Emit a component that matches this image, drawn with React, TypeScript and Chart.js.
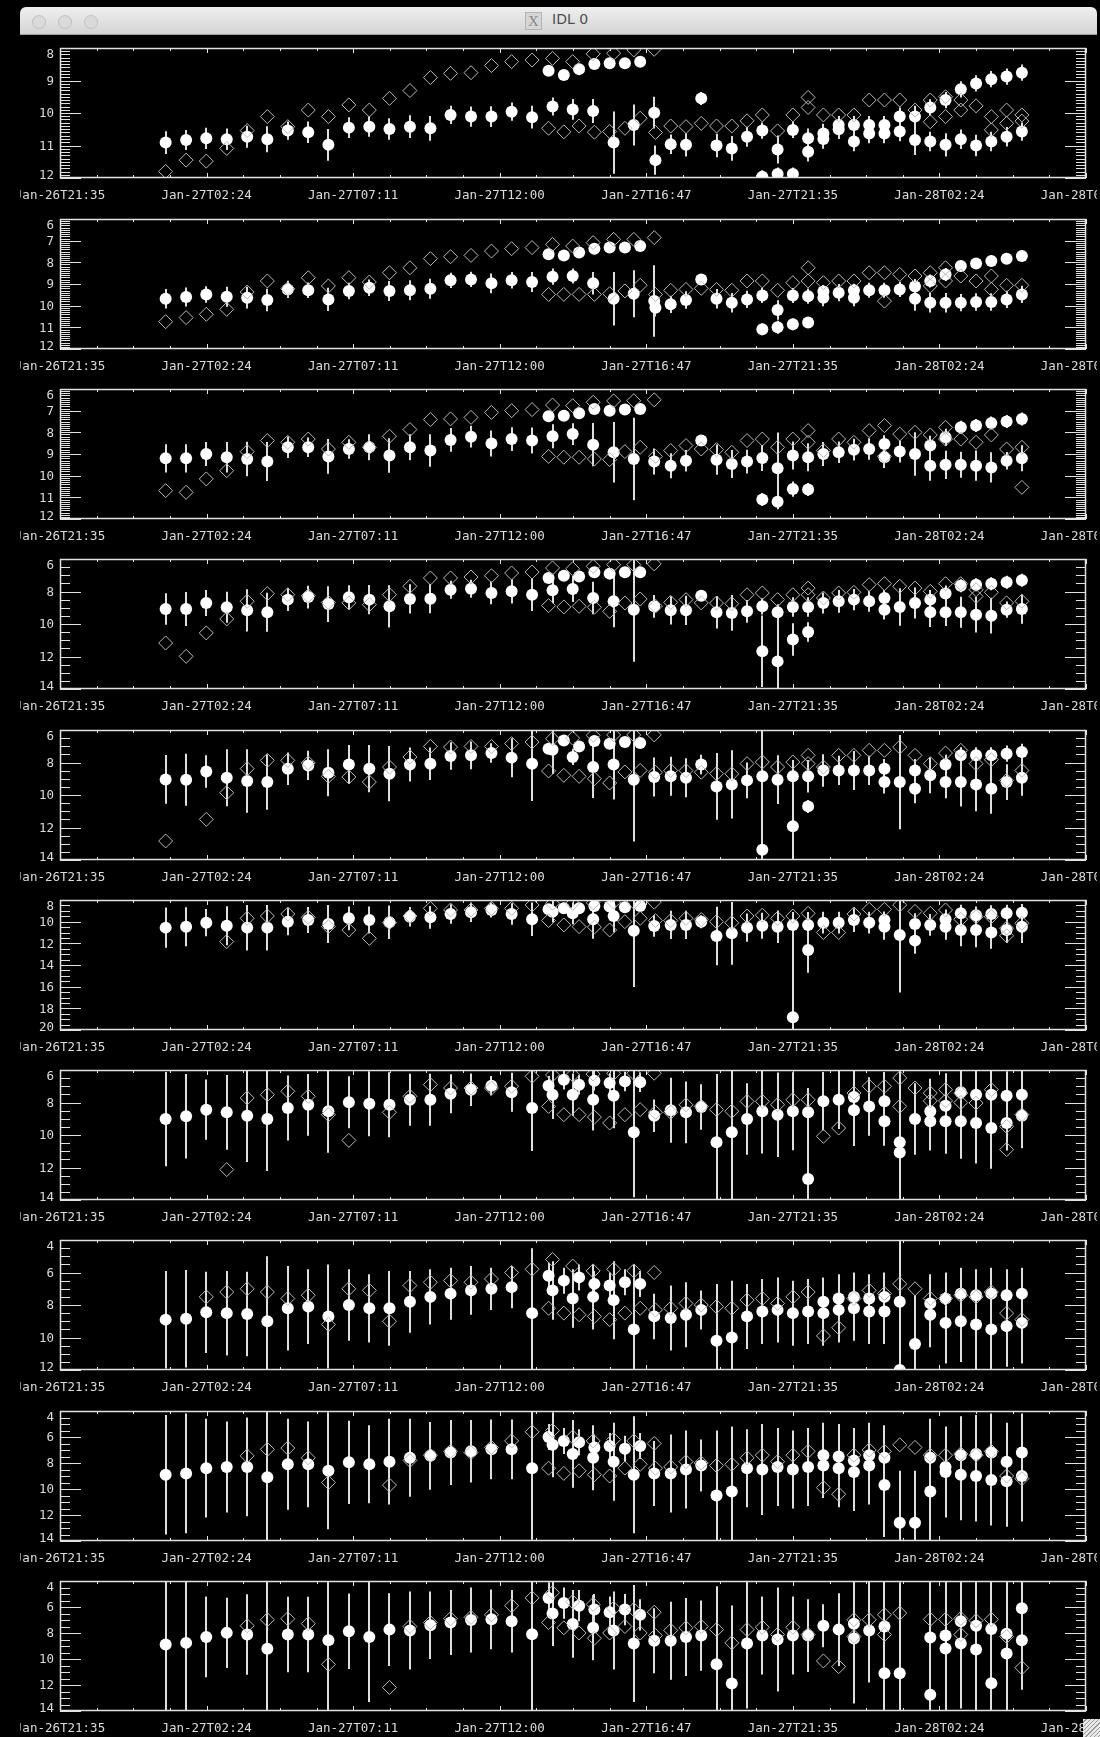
import React, { useEffect, useRef } from 'react';
import { Chart, registerables } from 'chart.js';

Chart.register(...registerables);

type Val = number | null;
const _ = null;

// ---------- x axis (hours after Jan-26T21:35) ----------
const X_TICK_LABELS = ['Jan-26T21:35', 'Jan-27T02:24', 'Jan-27T07:11', 'Jan-27T12:00', 'Jan-27T16:47', 'Jan-27T21:35', 'Jan-28T02:24', 'Jan-28T07:11'];
const X_MIN = 0;
const X_MAX = 33.6;
const X_MAJOR = 4.8;
const X_MINOR_PER_MAJOR = 4;

// observation times (hours)
const T_A = [3.46, 4.13, 4.79, 5.46, 6.13, 6.79, 7.46, 8.13, 8.79, 9.46, 10.13, 10.79, 11.46, 12.13, 12.79, 13.46, 14.13, 14.79, 15.46, 16.13, 16.79, 17.46, 18.13, 18.79, 19.46];
const T_B = [16.0, 16.5, 17.0, 17.5, 18.0, 18.5, 19.0, 19.5, 20.0, 20.5, 21.0, 21.5, 22.0, 22.5, 23.0, 23.5, 24.0, 24.5, 25.0, 25.5, 26.0, 26.5, 27.0, 27.5, 28.0, 28.5, 29.0, 29.5, 30.0, 30.5, 31.0, 31.5];

// ---------- y axes per panel ----------
const Y_MIN = [8, 6, 6, 6, 6, 8, 6, 4, 4, 4];
const Y_MAX = [12, 12, 12, 14, 14, 20, 14, 12, 14, 14];
const Y_STEP = [1, 1, 1, 2, 2, 2, 2, 2, 2, 2];
const Y_MINOR = [10, 10, 10, 4, 4, 4, 4, 4, 4, 4];

// ---------- panel 1 ----------
const P1_CA: Val[] = [10.91, 10.83, 10.78, 10.81, 10.73, 10.81, 10.54, 10.59, 10.98, 10.45, 10.42, 10.49, 10.42, 10.47, 10.06, 10.11, 10.11, 9.96, 10.13, 9.80, 9.89, 9.94, 10.91, 10.37, 9.99];
const P1_EA: Val[] = [0.35, 0.31, 0.33, 0.33, 0.34, 0.40, 0.28, 0.33, 0.49, 0.32, 0.31, 0.33, 0.35, 0.38, 0.28, 0.31, 0.32, 0.28, 0.35, 0.28, 0.32, 0.37, 0.96, 0.63, 0.49];
const P1_DA: Val[] = [11.80, 11.45, 11.48, 11.09, 10.54, 10.11, 10.42, 9.91, 10.11, 9.75, 9.91, 9.55, 9.31, 8.91, 8.78, 8.76, 8.54, 8.42, 8.37, 8.32, 8.42, 8.18, 8.16, 8.06, 8.04];
const P1_C1: Val[] = [8.70, 8.83, 8.65, 8.49, 8.47, 8.47, 8.42, _, _, _, _, _, _, _, _, _, _, 10.78, 10.63, 10.37, 10.37, 10.37, 10.37, 10.11, 10.11, 9.83, 9.60, 9.27, 9.09, 8.96, 8.88, 8.76];
const P1_E1: Val[] = [0.12, 0.12, 0.12, 0.12, 0.12, 0.12, 0.12, _, _, _, _, _, _, _, _, _, _, 0.30, 0.30, 0.28, 0.28, 0.28, 0.28, 0.28, 0.33, 0.25, 0.25, 0.25, 0.25, 0.25, 0.25, 0.25];
const P1_C2: Val[] = [_, _, _, _, _, _, _, 11.45, 10.96, 10.98, 9.55, 11.00, 11.09, 10.73, 10.54, 11.12, 10.52, 11.19, 10.80, 10.50, 10.88, 10.63, 10.63, 10.57, 10.83, 10.88, 10.98, 10.81, 11.00, 10.88, 10.73, 10.57];
const P1_E2: Val[] = [_, _, _, _, _, _, _, 0.45, 0.30, 0.36, 0.20, 0.36, 0.38, 0.31, 0.25, 0.43, 0.25, 0.30, 0.30, 0.30, 0.30, 0.30, 0.30, 0.30, 0.46, 0.30, 0.36, 0.30, 0.33, 0.30, 0.30, 0.28];
const P1_C3: Val[] = [_, _, _, _, _, _, _, _, _, _, _, _, _, _, 11.96, 11.88, 11.88, _, _, _, _, _, _, _, _, _, _, _, _, _, _, _];
const P1_E3: Val[] = [_, _, _, _, _, _, _, _, _, _, _, _, _, _, 0.2, 0.2, 0.2, _, _, _, _, _, _, _, _, _, _, _, _, _, _, _];
const P1_D1: Val[] = [10.47, 10.58, 10.40, 10.59, 10.57, 10.47, 10.16, 10.60, 10.40, 10.42, 10.32, 10.40, 10.40, 10.24, 10.06, 10.55, 10.06, 9.52, 10.06, 10.06, 10.06, 9.60, 9.60, 9.60, 9.91, 9.60, 9.50, 9.60, 9.78, 10.11, 9.91, 10.06];
const P1_D2: Val[] = [_, _, _, _, _, _, _, _, _, _, _, _, _, _, _, _, _, 9.83, _, _, _, _, _, _, _, 10.27, 10.11, 9.91, _, 10.52, 10.32, 10.25];

// ---------- panel 2 ----------
const P2_CA: Val[] = [9.68, 9.60, 9.48, 9.59, 9.63, 9.74, 9.25, 9.29, 9.71, 9.32, 9.17, 9.32, 9.29, 9.22, 8.83, 8.79, 8.97, 8.83, 8.91, 8.66, 8.63, 8.97, 9.68, 9.45, 9.79];
const P2_EA: Val[] = [0.45, 0.44, 0.38, 0.46, 0.50, 0.52, 0.40, 0.36, 0.54, 0.38, 0.38, 0.46, 0.46, 0.46, 0.35, 0.35, 0.46, 0.38, 0.46, 0.38, 0.35, 0.52, 1.23, 1.08, 1.65];
const P2_DA: Val[] = [10.74, 10.55, 10.40, 10.17, 9.37, 8.86, 9.22, 8.71, 9.09, 8.71, 8.91, 8.48, 8.25, 7.83, 7.74, 7.68, 7.48, 7.37, 7.32, 7.17, 7.25, 7.09, 6.94, 6.94, 6.86];
const P2_C1: Val[] = [7.63, 7.68, 7.55, 7.37, 7.32, 7.32, 7.25, _, _, _, _, _, _, _, _, _, _, _, 9.35, _, 9.29, _, _, _, 9.12, 8.86, 8.56, 8.17, 8.05, 7.94, 7.83, 7.71];
const P2_E1: Val[] = [0.12, 0.12, 0.12, 0.12, 0.12, 0.12, 0.12, _, _, _, _, _, _, _, _, _, _, _, 0.3, _, 0.3, _, _, _, 0.35, 0.3, 0.3, 0.25, 0.25, 0.25, 0.25, 0.25];
const P2_C2: Val[] = [_, _, _, _, _, _, _, 10.10, 9.94, 9.74, 8.79, 9.68, 9.86, 9.71, 9.53, 10.20, 9.53, 9.56, 9.63, 9.40, 9.63, 9.29, 9.29, 9.25, 9.68, 9.86, 9.86, 9.86, 9.83, 9.83, 9.71, 9.48];
const P2_E2: Val[] = [_, _, _, _, _, _, _, 0.40, 0.40, 0.40, 0.20, 0.45, 0.45, 0.40, 0.35, 0.45, 0.35, 0.35, 0.40, 0.40, 0.40, 0.35, 0.35, 0.35, 0.55, 0.45, 0.45, 0.40, 0.40, 0.40, 0.40, 0.40];
const P2_C3: Val[] = [_, _, _, _, _, _, _, _, _, _, _, _, _, _, 11.09, 11.00, 10.86, 10.78, _, _, _, _, _, _, _, _, _, _, _, _, _, _];
const P2_E3: Val[] = [_, _, _, _, _, _, _, _, _, _, _, _, _, _, 0.27, 0.30, 0.27, 0.25, _, _, _, _, _, _, _, _, _, _, _, _, _, _];
const P2_D1: Val[] = [9.48, 9.48, 9.48, 9.48, 9.45, 9.32, 9.06, 9.48, 9.29, 9.25, 9.20, 9.25, 9.29, 8.86, 8.86, 9.29, 8.94, 8.25, 8.94, 8.86, 8.86, 8.48, 8.48, 8.56, 8.63, 8.48, 8.25, 8.63, 8.86, 8.63, 9.06, 9.06];
const P2_D2: Val[] = [_, _, _, _, _, _, _, _, _, _, _, _, _, _, _, _, _, 8.86, _, _, _, _, 9.79, _, _, 9.09, 8.86, _, _, 9.25, _, _];

// ---------- panel 3 ----------
const P3_CA: Val[] = [9.20, 9.20, 9.00, 9.15, 9.23, 9.35, 8.69, 8.69, 9.11, 8.77, 8.69, 9.07, 8.69, 8.84, 8.35, 8.20, 8.51, 8.31, 8.38, 8.18, 8.08, 8.57, 8.92, 9.23, 9.35];
const P3_EA: Val[] = [0.65, 0.65, 0.55, 0.70, 0.80, 0.90, 0.50, 0.45, 0.80, 0.45, 0.60, 0.80, 0.60, 0.75, 0.55, 0.50, 0.60, 0.55, 0.60, 0.55, 0.50, 1.00, 1.40, 1.90, 0.60];
const P3_DA: Val[] = [10.69, 10.77, 10.15, 9.77, 8.89, 8.38, 8.46, 8.31, 8.77, 8.46, 8.69, 8.18, 7.87, 7.41, 7.38, 7.31, 7.08, 7.00, 6.95, 6.74, 6.77, 6.61, 6.55, 6.54, 6.50];
const P3_C1: Val[] = [7.26, 7.23, 7.12, 6.92, 7.00, 6.95, 6.92, _, _, _, _, _, _, _, _, _, _, _, _, _, _, _, 8.54, _, _, 8.61, 8.23, 7.77, 7.69, 7.57, 7.50, 7.38];
const P3_E1: Val[] = [0.15, 0.15, 0.15, 0.15, 0.15, 0.15, 0.15, _, _, _, _, _, _, _, _, _, _, _, _, _, _, _, 0.4, _, _, 0.45, 0.4, 0.3, 0.3, 0.3, 0.3, 0.3];
const P3_C2: Val[] = [_, _, _, _, _, _, _, _, 9.54, 9.31, 8.38, 9.26, 9.46, 9.35, 9.18, 9.66, 9.07, 9.15, 9.00, 8.92, 8.80, 8.77, 9.15, 8.89, 9.00, 9.54, 9.50, 9.50, 9.54, 9.62, 9.31, 9.20];
const P3_E2: Val[] = [_, _, _, _, _, _, _, _, 0.58, 0.50, 0.20, 0.70, 0.65, 0.55, 0.60, 1.65, 0.65, 0.65, 0.55, 0.50, 0.50, 0.50, 0.50, 0.50, 1.00, 0.70, 0.65, 0.60, 0.70, 0.70, 0.40, 0.60];
const P3_C3: Val[] = [_, _, _, _, _, _, _, _, _, _, _, _, _, _, 11.10, 11.20, 10.62, 10.64, _, _, _, _, _, _, _, _, _, _, _, _, _, _];
const P3_E3: Val[] = [_, _, _, _, _, _, _, _, _, _, _, _, _, _, 0.30, 0.35, 0.35, 0.30, _, _, _, _, _, _, _, _, _, _, _, _, _, _];
const P3_D1: Val[] = [9.11, 9.15, 9.15, 9.23, 9.26, 8.89, 8.69, 9.11, 8.84, 8.61, 8.77, 8.80, 8.92, 8.38, 8.31, 8.69, 8.31, 7.92, 8.84, 8.31, 8.46, 7.92, 7.69, 8.08, 8.00, 8.12, 7.77, 8.31, 8.46, 8.12, 8.77, 8.69];
const P3_D2: Val[] = [_, _, _, _, _, _, _, _, _, _, _, _, _, _, _, _, _, 8.46, _, _, _, _, 9.11, _, _, _, 8.31, _, _, _, _, 10.54];

// ---------- panel 4 ----------
const P4_CA: Val[] = [9.08, 9.08, 8.71, 8.97, 9.16, 9.28, 8.50, 8.34, 8.77, 8.36, 8.50, 8.91, 8.46, 8.44, 7.89, 7.83, 8.09, 7.99, 8.20, 7.93, 7.85, 8.40, 8.60, 9.12, 8.91];
const P4_EA: Val[] = [0.97, 1.05, 0.80, 0.95, 1.30, 1.20, 0.70, 0.70, 1.10, 0.75, 0.90, 1.30, 0.90, 0.90, 0.55, 0.55, 0.70, 0.75, 1.00, 0.80, 0.80, 1.00, 1.60, 3.20, 0.70];
const P4_DA: Val[] = [11.17, 11.99, 10.55, 9.69, 8.60, 8.13, 8.20, 8.26, 8.67, 8.70, 8.81, 8.20, 7.68, 7.17, 7.17, 7.11, 7.03, 6.86, 6.80, 6.55, 6.60, 6.45, 6.35, 6.35, 6.30];
const P4_C1: Val[] = [7.17, 7.03, 7.07, 6.82, 6.90, 6.82, 6.82, _, _, _, _, _, _, _, _, _, _, _, _, _, _, _, 8.40, _, _, 8.50, 8.13, 7.64, 7.58, 7.52, 7.43, 7.31];
const P4_E1: Val[] = [0.2, 0.2, 0.2, 0.2, 0.2, 0.2, 0.2, _, _, _, _, _, _, _, _, _, _, _, _, _, _, _, 0.5, _, _, 0.6, 0.5, 0.4, 0.4, 0.4, 0.4, 0.4];
const P4_C2: Val[] = [_, _, _, _, _, _, _, _, 9.16, 9.16, 8.26, 9.28, 9.32, 9.22, 8.91, 9.28, 8.95, 8.95, 8.71, 8.60, 8.50, 8.60, 9.12, 8.95, 8.71, 9.28, 9.28, 9.28, 9.43, 9.49, 9.12, 9.08];
const P4_E2: Val[] = [_, _, _, _, _, _, _, _, 0.87, 0.90, 0.30, 1.00, 1.10, 0.70, 0.50, 0.50, 0.60, 0.60, 0.65, 0.70, 0.65, 0.65, 0.60, 1.15, 0.95, 0.90, 0.85, 0.95, 1.10, 1.10, 0.50, 0.90];
const P4_C3: Val[] = [_, _, _, _, _, _, _, _, _, _, _, _, _, _, 11.68, 12.30, 10.96, 10.49, _, _, _, _, _, _, _, _, _, _, _, _, _, _];
const P4_E3: Val[] = [_, _, _, _, _, _, _, _, _, _, _, _, _, _, 2.2, 2.6, 1.0, 0.6, _, _, _, _, _, _, _, _, _, _, _, _, _, _];
const P4_D1: Val[] = [8.87, 8.95, 8.91, 8.97, 9.22, 8.71, 8.46, 8.90, 8.67, 8.50, 8.70, 8.71, 8.75, 8.20, 8.09, 8.50, 8.20, 7.79, 8.40, 8.09, 8.05, 7.58, 7.52, 7.68, 7.79, 7.99, 7.52, 7.52, 7.89, 8.05, 8.70, 8.60];
const P4_D2: Val[] = [_, _, _, _, _, _, _, _, _, _, _, _, _, _, _, _, _, 8.20, _, _, _, _, _, _, _, _, _, _, 8.30, _, _, _];

// ---------- panel 5 ----------
const P5_CA: Val[] = [9.04, 9.06, 8.55, 8.94, 9.14, 9.20, 8.38, 8.18, 8.63, 8.12, 8.38, 8.69, 8.12, 8.07, 7.60, 7.56, 7.42, 7.70, 8.07, 7.21, 7.66, 8.28, 8.12, 9.06, 8.89];
const P5_EA: Val[] = [1.50, 1.60, 1.00, 1.75, 1.95, 1.70, 1.00, 0.90, 1.45, 1.20, 1.45, 1.70, 1.05, 1.00, 0.85, 0.85, 0.60, 1.20, 2.30, 1.50, 0.50, 1.90, 2.15, 3.80, 1.20];
const P5_DA: Val[] = [12.83, _, 11.50, 9.86, 8.38, 7.87, 7.87, 8.03, 8.85, 8.89, 9.20, 8.28, 7.66, 7.01, 7.05, 7.01, 7.01, 6.84, 6.74, 6.54, 6.50, 6.33, 6.30, 6.30, 6.30];
const P5_C1: Val[] = [7.15, 6.64, 7.01, 6.68, 6.84, 6.74, 6.80, _, _, _, _, _, _, _, _, _, _, _, _, _, _, _, 8.38, _, 8.49, _, 8.12, 7.56, 7.56, 7.56, 7.46, 7.35];
const P5_E1: Val[] = [0.3, 0.3, 0.3, 0.3, 0.3, 0.3, 0.3, _, _, _, _, _, _, _, _, _, _, _, _, _, _, _, 0.6, _, 0.7, _, 0.6, 0.5, 0.5, 0.5, 0.5, 0.5];
const P5_C2: Val[] = [_, _, _, _, _, _, _, _, 8.85, 8.94, 8.12, 9.47, 9.35, 9.10, 8.85, 9.06, 8.85, 8.85, 8.49, 8.49, 8.49, 8.49, 9.20, 9.20, 9.61, 8.79, 9.20, 9.20, 9.35, 9.61, 9.20, 8.94];
const P5_E2: Val[] = [_, _, _, _, _, _, _, _, 1.20, 1.20, 0.60, 2.05, 2.10, 1.10, 1.00, 1.50, 1.00, 1.00, 1.00, 0.90, 1.20, 0.90, 0.70, 2.90, 0.90, 1.10, 1.00, 1.50, 1.65, 1.55, 1.10, 1.10];
const P5_C3: Val[] = [_, _, _, _, _, _, _, _, _, _, _, _, _, _, 13.37, _, 11.93, 10.70, _, _, _, _, _, _, _, _, _, _, _, _, _, _];
const P5_E3: Val[] = [_, _, _, _, _, _, _, _, _, _, _, _, _, _, 7.4, _, 2.5, 0.4, _, _, _, _, _, _, _, _, _, _, _, _, _, _];
const P5_D1: Val[] = [8.52, 8.79, 8.85, 9.00, 9.26, 8.58, 8.49, 8.60, 8.49, 8.50, 8.60, 8.69, 8.70, 8.07, 7.97, 8.28, 7.97, 7.56, 8.28, 7.56, 7.56, 7.25, 7.25, 7.05, 7.56, 8.07, 7.42, 7.25, 8.07, 7.83, 9.10, 8.49];
const P5_D2: Val[] = [_, _, _, _, _, _, _, _, _, _, _, _, _, _, _, _, _, 8.07, _, _, _, _, _, _, _, _, _, _, _, _, _, _];

// ---------- panel 6 ----------
const P6_CA: Val[] = [10.55, 10.46, 10.09, 10.37, 10.55, 10.55, 10.00, 9.85, 10.22, 9.69, 9.85, 10.06, 9.54, 9.60, 9.29, 9.14, 8.92, 9.29, 9.78, 9.08, 9.23, 9.78, 9.48, 10.83, 10.40];
const P6_EA: Val[] = [1.85, 1.80, 1.25, 1.80, 2.10, 2.10, 1.25, 1.20, 1.75, 1.10, 1.25, 1.55, 0.90, 1.05, 0.90, 0.90, 0.70, 1.00, 1.55, 1.00, 1.00, 1.80, 1.50, 5.20, 1.00];
const P6_DA: Val[] = [_, _, _, 11.84, 9.69, 9.48, 9.29, 9.60, 10.46, 10.77, 11.54, 10.09, 9.48, 8.77, 8.92, 8.92, 8.77, 8.77, 8.46, 8.30, 8.30, 8.25, 8.20, 8.20, 8.20];
const P6_C1: Val[] = [8.86, 8.77, 8.77, 8.55, 8.61, 8.68, 8.55, _, _, _, _, _, _, _, _, _, _, _, _, _, _, _, 9.85, _, 10.22, _, 9.78, 9.23, 9.40, 9.29, 9.23, 9.17];
const P6_E1: Val[] = [0.4, 0.4, 0.4, 0.4, 0.4, 0.4, 0.4, _, _, _, _, _, _, _, _, _, _, _, _, _, _, _, 0.8, _, 1.0, _, 0.9, 0.8, 0.8, 0.8, 0.8, 0.8];
const P6_C2: Val[] = [_, _, _, _, _, _, _, _, 10.30, 10.30, 10.00, 11.32, 11.08, 10.55, 10.37, 10.46, 10.30, 10.30, 10.09, 10.09, 9.85, 10.09, 10.46, 11.23, 11.75, 10.30, 10.46, 10.77, 10.77, 11.00, 10.77, 10.46];
const P6_E2: Val[] = [_, _, _, _, _, _, _, _, 1.30, 1.30, 0.60, 2.70, 2.90, 1.30, 1.20, 1.50, 1.20, 1.20, 1.00, 1.00, 1.10, 1.00, 1.20, 5.30, 1.20, 1.00, 1.20, 1.50, 1.60, 1.50, 1.20, 1.50];
const P6_C3: Val[] = [_, _, _, _, _, _, _, _, _, _, _, _, _, _, _, _, 18.83, 12.62, _, _, _, _, _, _, _, _, _, _, _, _, _, _];
const P6_E3: Val[] = [_, _, _, _, _, _, _, _, _, _, _, _, _, _, _, _, 9.0, 2.1, _, _, _, _, _, _, _, _, _, _, _, _, _, _];
const P6_D1: Val[] = [9.90, 10.30, 10.46, 10.50, 10.77, 10.00, 9.69, 9.90, 9.90, 9.69, 9.80, 10.00, 10.10, 9.48, 9.40, 9.69, 9.48, 9.23, 11.00, 11.00, 9.29, 8.86, 8.86, 8.46, 9.05, 9.23, 8.92, 9.78, 9.54, 9.54, 10.60, 10.15];
const P6_D2: Val[] = [_, _, _, _, _, _, _, _, _, _, _, _, _, _, _, _, _, _, _, _, _, _, _, _, _, _, _, _, _, _, 11.30, _];

// ---------- panel 7 ----------
const P7_CA: Val[] = [9.02, 8.85, 8.44, 8.60, 8.81, 9.02, 8.34, 8.14, 8.54, 7.99, 8.07, 8.14, 7.83, 7.83, 7.46, 7.21, 6.97, 7.37, 8.34, 7.52, 7.52, 7.83, 7.58, 9.83, 8.81];
const P7_EA: Val[] = [2.90, 2.60, 1.85, 2.30, 2.85, 3.20, 2.00, 1.90, 2.55, 1.60, 2.00, 2.00, 1.60, 1.60, 1.20, 1.00, 0.60, 1.20, 2.65, 1.50, 1.30, 1.90, 2.00, 4.00, 1.00];
const P7_DA: Val[] = [_, _, _, 12.13, 7.72, 7.52, 7.31, 7.62, 8.75, 10.33, _, 8.60, 7.62, 6.90, 7.11, 7.11, 7.11, 7.00, 6.39, 6.30, 6.30, 6.25, 6.20, 6.20, 6.20];
const P7_C1: Val[] = [6.97, 6.60, 6.91, 6.66, 6.80, 6.70, 6.76, _, _, _, _, _, _, _, _, _, _, _, _, _, 7.66, _, 7.93, _, _, 8.54, 8.20, 7.37, 7.52, 7.52, 7.58, 7.52];
const P7_E1: Val[] = [0.6, 0.6, 0.6, 0.6, 0.6, 0.6, 0.6, _, _, _, _, _, _, _, _, _, _, _, _, _, 2.0, _, 1.8, _, _, 2.0, 2.0, 1.5, 1.5, 1.5, 1.5, 1.5];
const P7_C2: Val[] = [_, _, _, _, _, _, _, _, 8.48, 8.60, 8.28, 10.45, 9.83, 9.02, 8.54, 8.75, 8.54, 8.60, 7.93, 7.83, 8.48, 8.24, 9.16, 10.45, 9.02, 9.16, 9.16, 9.16, 9.26, 9.57, 9.26, 8.81];
const P7_E2: Val[] = [_, _, _, _, _, _, _, _, 2.00, 1.90, 1.40, 4.20, 4.20, 2.20, 2.60, 2.60, 2.40, 1.50, 1.80, 1.80, 2.20, 1.80, 1.50, 4.50, 2.20, 1.80, 2.00, 2.30, 2.50, 2.50, 1.70, 2.00];
const P7_C3: Val[] = [_, _, _, _, _, _, _, _, _, _, _, _, _, _, _, _, _, 12.71, _, _, _, _, _, 11.07, _, _, _, _, _, _, _, _];
const P7_E3: Val[] = [_, _, _, _, _, _, _, _, _, _, _, _, _, _, _, _, _, 4.5, _, _, _, _, _, 1.0, _, _, _, _, _, _, _, _];
const P7_D1: Val[] = [8.24, 8.75, 8.75, 8.90, 9.26, 8.75, 8.44, 8.60, 8.60, 8.14, 8.24, 8.44, 8.54, 7.93, 7.93, 8.14, 7.83, 7.83, 10.08, 9.57, 7.42, 7.00, 7.00, 6.49, 7.11, 7.42, 7.21, 7.42, 8.03, 7.21, 9.47, 8.75];
const P7_D2: Val[] = [_, _, _, _, _, _, _, _, _, _, _, _, _, _, _, _, _, _, _, _, _, _, _, 8.24, _, 7.90, 7.90, 8.00, _, _, 10.90, _];

// ---------- panel 8 ----------
const P8_CA: Val[] = [8.90, 8.85, 8.45, 8.50, 8.55, 9.00, 8.20, 8.10, 8.70, 8.00, 8.20, 8.20, 7.80, 7.50, 7.30, 7.10, 7.00, 6.90, 8.50, 7.10, 7.60, 7.50, 7.70, 9.50, 8.70];
const P8_EA: Val[] = [3.0, 3.0, 2.5, 2.6, 2.6, 4.0, 2.6, 2.3, 3.2, 2.2, 2.1, 2.3, 1.9, 1.7, 1.6, 1.5, 1.3, 1.3, 4.0, 1.8, 1.8, 2.0, 2.4, 4.0, 1.4];
const P8_DA: Val[] = [_, _, 7.50, 7.20, 7.00, 7.20, 7.60, 7.40, 9.20, 7.00, 7.10, 9.00, 6.80, 6.60, 6.50, 6.60, 6.40, 6.00, 5.80, 5.20, 5.60, 5.90, 5.80, 5.90, 6.00];
const P8_C1: Val[] = [6.20, 6.50, 6.30, 6.70, 6.80, 6.60, 6.70, _, _, _, _, _, _, _, _, _, _, _, 7.80, 7.60, 7.50, 7.60, 7.50, _, _, 7.90, 7.60, 7.30, 7.40, 7.30, 7.40, 7.30];
const P8_E1: Val[] = [0.8, 0.8, 0.8, 0.8, 0.8, 0.8, 0.8, _, _, _, _, _, _, _, _, _, _, _, 1.5, 1.5, 1.5, 1.5, 1.5, _, _, 1.8, 1.6, 1.6, 1.6, 1.6, 1.6, 1.6];
const P8_C2: Val[] = [_, _, _, _, _, _, _, _, 8.80, 8.60, 8.30, 10.20, 10.00, 8.70, 8.40, 8.30, 8.50, 8.40, 8.50, 8.30, 8.20, 8.40, 8.40, 7.80, 10.40, 8.60, 9.10, 9.00, 9.20, 9.50, 9.30, 9.10];
const P8_E2: Val[] = [_, _, _, _, _, _, _, _, 2.0, 2.0, 1.2, 3.5, 3.5, 2.0, 2.0, 2.0, 2.0, 2.0, 2.0, 2.0, 2.0, 2.0, 2.0, 4.0, 3.0, 2.0, 2.5, 2.5, 3.0, 3.0, 2.5, 2.5];
const P8_C3: Val[] = [_, _, _, _, _, _, _, _, _, _, _, _, _, _, _, _, _, _, _, _, _, _, _, 12.00, _, _, _, _, _, _, _, _];
const P8_E3: Val[] = [_, _, _, _, _, _, _, _, _, _, _, _, _, _, _, _, _, _, _, _, _, _, _, 3.0, _, _, _, _, _, _, _, _];
const P8_D1: Val[] = [8.20, 8.50, 8.60, 8.70, 8.90, 8.50, 8.20, 8.30, 8.20, 7.90, 8.00, 8.10, 8.20, 7.70, 7.60, 7.90, 7.50, 7.20, 9.90, 9.40, 7.60, 7.10, 7.30, 6.70, 7.00, 7.60, 7.60, 7.40, 7.50, 7.20, 8.50, 8.90];
const P8_D2: Val[] = [_, _, _, _, _, _, _, _, _, _, _, _, _, _, _, _, _, _, _, _, _, _, _, _, _, _, _, _, _, _, _, _];

// ---------- panel 9 ----------
const P9_CA: Val[] = [8.90, 8.80, 8.40, 8.30, 8.30, 9.10, 8.10, 8.10, 8.60, 7.95, 8.10, 7.90, 7.60, 7.45, 7.20, 7.10, 6.95, 6.95, 8.40, 6.60, 7.30, 7.60, 7.90, 8.90, 8.80];
const P9_EA: Val[] = [4.6, 4.6, 3.8, 3.5, 3.8, 5.5, 3.5, 3.3, 4.5, 3.2, 3.0, 3.3, 3.0, 2.6, 2.5, 2.4, 2.3, 2.3, 5.5, 2.5, 2.6, 2.5, 3.0, 4.5, 2.5];
const P9_DA: Val[] = [_, _, _, _, 7.45, 6.95, 6.85, 7.60, 9.50, _, _, 9.70, 7.80, 7.40, 7.10, 7.20, 6.80, 6.30, 5.60, 5.50, 6.00, 6.30, 6.20, 6.30, 6.50];
const P9_C1: Val[] = [6.00, 6.30, 6.40, 6.80, 6.70, 6.90, 6.70, _, _, _, _, _, _, _, _, _, _, _, 7.40, 7.50, 7.80, 7.40, 7.60, _, _, 7.60, 8.30, 7.40, 7.30, 7.20, 7.90, 7.20];
const P9_E1: Val[] = [1.0, 1.0, 1.0, 1.0, 1.0, 1.0, 1.0, _, _, _, _, _, _, _, _, _, _, _, 2.5, 2.5, 2.5, 2.5, 2.5, _, _, 3.0, 3.0, 3.0, 3.0, 3.0, 3.0, 3.0];
const P9_C2: Val[] = [_, _, _, _, _, _, _, _, 8.80, 8.50, 8.20, 10.50, 10.20, 8.40, 8.50, 8.30, 8.50, 8.30, 8.20, 8.40, 8.70, 8.20, 9.70, 12.60, 12.60, 10.20, 8.70, 8.90, 9.00, 9.30, 9.40, 9.00];
const P9_E2: Val[] = [_, _, _, _, _, _, _, _, 3.0, 3.0, 2.0, 5.0, 5.0, 3.0, 3.5, 3.0, 3.0, 3.0, 2.5, 3.0, 3.0, 3.0, 4.0, 4.0, 4.0, 4.0, 3.5, 3.5, 3.5, 3.5, 3.5, 3.5];
const P9_C3: Val[] = [_, _, _, _, _, _, _, _, _, _, _, _, _, _, _, _, _, _, _, _, _, _, _, _, _, _, _, _, _, _, _, _];
const P9_E3: Val[] = [_, _, _, _, _, _, _, _, _, _, _, _, _, _, _, _, _, _, _, _, _, _, _, _, _, _, _, _, _, _, _, _];
const P9_D1: Val[] = [8.40, 8.80, 8.60, 8.90, 9.00, 8.40, 8.10, 8.40, 8.30, 7.90, 8.00, 8.20, 8.10, 7.60, 7.40, 7.90, 7.40, 7.10, 9.90, 10.40, 7.40, 7.00, 7.10, 6.60, 6.80, 7.40, 7.40, 7.30, 7.40, 7.10, 9.00, 9.20];
const P9_D2: Val[] = [_, _, _, _, _, _, _, _, _, _, _, _, _, _, _, _, _, _, _, _, _, _, _, _, _, _, _, _, _, _, _, _];

// ---------- panel 10 ----------
const P10_CA: Val[] = [8.89, 8.76, 8.30, 7.99, 8.12, 9.22, 8.12, 8.12, 8.56, 7.87, 8.30, 7.74, 7.80, 7.40, 7.20, 7.00, 6.95, 7.10, 8.10, 6.50, 7.30, 7.60, 7.80, 8.80, 8.60];
const P10_EA: Val[] = [6.0, 5.5, 3.1, 2.7, 3.1, 6.0, 2.9, 2.9, 6.0, 2.9, 5.0, 2.8, 3.0, 2.6, 2.5, 2.5, 2.3, 2.4, 6.0, 2.5, 2.6, 2.5, 3.0, 4.5, 2.5];
const P10_DA: Val[] = [_, _, _, _, 7.44, 6.98, 6.90, 7.28, 10.41, _, _, 12.19, 7.50, 7.20, 6.90, 6.80, 6.60, 5.90, 5.30, 4.90, 5.60, 5.80, 6.10, 6.20, 6.40];
const P10_C1: Val[] = [5.30, 5.70, 5.90, 6.20, 6.40, 6.20, 6.60, _, _, _, _, _, _, _, _, _, _, _, _, _, 7.28, _, 7.50, _, _, _, 8.20, 7.10, 7.44, 7.69, 8.05, 6.09];
const P10_E1: Val[] = [1.2, 1.2, 1.2, 1.2, 1.2, 1.2, 1.2, _, _, _, _, _, _, _, _, _, _, _, _, _, 4.0, _, 4.0, _, _, _, 4.0, 4.0, 4.0, 4.0, 4.0, 3.8];
const P10_C2: Val[] = [_, _, _, _, _, _, _, _, 8.60, 8.30, 8.20, 10.41, 11.89, 8.81, 8.20, 8.50, 8.20, 8.20, 7.44, 7.74, 8.42, 7.80, 11.10, 11.10, _, 8.35, 9.19, 8.81, 9.27, 11.86, 9.58, 8.56];
const P10_E2: Val[] = [_, _, _, _, _, _, _, _, 3.0, 3.0, 2.7, 6.0, 6.0, 5.0, 3.0, 4.0, 3.0, 2.8, 1.65, 2.8, 5.0, 4.0, 7.0, 7.0, _, 6.0, 6.0, 5.0, 6.0, 6.0, 6.0, 3.8];
const P10_C3: Val[] = [_, _, _, _, _, _, _, _, _, _, _, _, _, _, _, _, _, _, _, _, _, _, _, _, _, 12.75, _, _, _, _, _, _];
const P10_E3: Val[] = [_, _, _, _, _, _, _, _, _, _, _, _, _, _, _, _, _, _, _, _, _, _, _, _, _, 6.0, _, _, _, _, _, _];
const P10_D1: Val[] = [7.20, 7.60, 8.00, 8.40, 8.00, 7.50, 8.00, 8.20, 7.80, 7.60, 7.50, 7.74, 8.76, 7.74, 7.56, 8.12, 7.56, 8.12, 10.15, 10.59, 6.98, 6.98, 6.60, 6.47, _, 6.95, 6.95, 6.88, 7.05, 6.95, 8.27, 10.67];
const P10_D2: Val[] = [_, _, _, _, _, _, _, _, _, _, _, _, _, _, _, _, _, _, _, _, 8.27, _, 8.12, _, _, _, _, 8.12, _, _, _, _];

const PANELS = [
  { cA: P1_CA, eA: P1_EA, dA: P1_DA, c1: P1_C1, e1: P1_E1, c2: P1_C2, e2: P1_E2, c3: P1_C3, e3: P1_E3, d1: P1_D1, d2: P1_D2 },
  { cA: P2_CA, eA: P2_EA, dA: P2_DA, c1: P2_C1, e1: P2_E1, c2: P2_C2, e2: P2_E2, c3: P2_C3, e3: P2_E3, d1: P2_D1, d2: P2_D2 },
  { cA: P3_CA, eA: P3_EA, dA: P3_DA, c1: P3_C1, e1: P3_E1, c2: P3_C2, e2: P3_E2, c3: P3_C3, e3: P3_E3, d1: P3_D1, d2: P3_D2 },
  { cA: P4_CA, eA: P4_EA, dA: P4_DA, c1: P4_C1, e1: P4_E1, c2: P4_C2, e2: P4_E2, c3: P4_C3, e3: P4_E3, d1: P4_D1, d2: P4_D2 },
  { cA: P5_CA, eA: P5_EA, dA: P5_DA, c1: P5_C1, e1: P5_E1, c2: P5_C2, e2: P5_E2, c3: P5_C3, e3: P5_E3, d1: P5_D1, d2: P5_D2 },
  { cA: P6_CA, eA: P6_EA, dA: P6_DA, c1: P6_C1, e1: P6_E1, c2: P6_C2, e2: P6_E2, c3: P6_C3, e3: P6_E3, d1: P6_D1, d2: P6_D2 },
  { cA: P7_CA, eA: P7_EA, dA: P7_DA, c1: P7_C1, e1: P7_E1, c2: P7_C2, e2: P7_E2, c3: P7_C3, e3: P7_E3, d1: P7_D1, d2: P7_D2 },
  { cA: P8_CA, eA: P8_EA, dA: P8_DA, c1: P8_C1, e1: P8_E1, c2: P8_C2, e2: P8_E2, c3: P8_C3, e3: P8_E3, d1: P8_D1, d2: P8_D2 },
  { cA: P9_CA, eA: P9_EA, dA: P9_DA, c1: P9_C1, e1: P9_E1, c2: P9_C2, e2: P9_E2, c3: P9_C3, e3: P9_E3, d1: P9_D1, d2: P9_D2 },
  { cA: P10_CA, eA: P10_EA, dA: P10_DA, c1: P10_C1, e1: P10_E1, c2: P10_C2, e2: P10_E2, c3: P10_C3, e3: P10_E3, d1: P10_D1, d2: P10_D2 },
];

// ---------- styles / layout ----------
const AXIS_COLOR = '#e2e2e2';
const TEXT_COLOR = '#dcdcdc';
const CIRCLE_COLOR = '#ffffff';
const ERR_COLOR = '#dedede';
const DIAMOND_COLOR = '#b9b9b9';
const FONT_FAMILY = "'DejaVu Sans Mono', monospace";
const FONT_SIZE = 12.5;

const CANVAS_LEFT = 20;
const CANVAS_W = 1077;
const PAD_TOP = 10;
const PLOT_H = 130;
const LABEL_H = 30;
const CANVAS_H = PAD_TOP + PLOT_H + LABEL_H;
const Y_AXIS_W = 40;
const PAD_RIGHT = 11;
const FRAME_TOP0 = 48.3;
const PANEL_PITCH = 170.3;

function series(t: number[], v: Val[], e?: Val[]) {
  const out: { x: number; y: number; e: number }[] = [];
  t.forEach((x, i) => {
    const y = v[i];
    if (y === null || y === undefined) return;
    out.push({ x, y, e: e ? (e[i] ?? 0) : 0 });
  });
  return out;
}

const errorBarPlugin = {
  id: 'errBars',
  beforeDatasetsDraw(chart: any) {
    const { ctx, chartArea: a } = chart;
    const xs = chart.scales.x;
    const ys = chart.scales.y;
    ctx.save();
    ctx.beginPath();
    ctx.rect(a.left, a.top, a.right - a.left, a.bottom - a.top);
    ctx.clip();
    ctx.strokeStyle = ERR_COLOR;
    ctx.lineWidth = 2;
    ctx.beginPath();
    chart.data.datasets.forEach((ds: any) => {
      if (!ds.errorBars) return;
      ds.data.forEach((p: any) => {
        if (!p.e) return;
        const px = Math.round(xs.getPixelForValue(p.x));
        ctx.moveTo(px, ys.getPixelForValue(p.y - p.e));
        ctx.lineTo(px, ys.getPixelForValue(p.y + p.e));
      });
    });
    ctx.stroke();
    ctx.restore();
  },
};

function makeFramePlugin(yMin: number, yMax: number, yStep: number, yMinor: number) {
  return {
    id: 'idlFrame',
    afterDatasetsDraw(chart: any) {
      const { ctx, chartArea: a } = chart;
      const xs = chart.scales.x;
      const ys = chart.scales.y;
      const L = Math.round(a.left);
      const R = Math.round(a.right);
      const T = Math.round(a.top);
      const B = Math.round(a.bottom);
      ctx.save();
      ctx.strokeStyle = AXIS_COLOR;
      ctx.lineWidth = 1;
      ctx.beginPath();
      const nx = Math.round(((X_MAX - X_MIN) / X_MAJOR) * X_MINOR_PER_MAJOR);
      for (let i = 0; i <= nx; i++) {
        const v = X_MIN + (i * X_MAJOR) / X_MINOR_PER_MAJOR;
        const px = Math.round(xs.getPixelForValue(v)) + 0.5;
        const len = i % X_MINOR_PER_MAJOR === 0 ? 5 : 3;
        ctx.moveTo(px, B);
        ctx.lineTo(px, B - len);
        ctx.moveTo(px, T);
        ctx.lineTo(px, T + len);
      }
      const ny = Math.round(((yMax - yMin) / yStep) * yMinor);
      for (let i = 0; i <= ny; i++) {
        const v = yMin + (i * yStep) / yMinor;
        const py = Math.round(ys.getPixelForValue(v)) + 0.5;
        const len = i % yMinor === 0 ? 21 : 10;
        ctx.moveTo(L, py);
        ctx.lineTo(L + len, py);
        ctx.moveTo(R, py);
        ctx.lineTo(R - len, py);
      }
      ctx.stroke();
      ctx.lineWidth = 1.5;
      ctx.strokeRect(L + 0.5, T + 0.5, R - L - 1, B - T - 1);

      ctx.fillStyle = TEXT_COLOR;
      ctx.font = `${FONT_SIZE}px ${FONT_FAMILY}`;
      ctx.textAlign = 'right';
      ctx.textBaseline = 'middle';
      ys.ticks.forEach((t: any) => {
        let py = ys.getPixelForValue(t.value);
        py = Math.max(a.top + 6, Math.min(a.bottom - 3, py));
        ctx.fillText(String(t.value), a.left - 6, py + 1);
      });
      ctx.restore();
    },
  };
}

function Panel({ index }: { index: number }) {
  const ref = useRef<HTMLCanvasElement | null>(null);
  useEffect(() => {
    const p = PANELS[index];
    const yMin = Y_MIN[index];
    const yMax = Y_MAX[index];
    const yStep = Y_STEP[index];
    const yMinor = Y_MINOR[index];
    const circle = (t: number[], v: Val[], e: Val[]) => ({
      data: series(t, v, e),
      pointStyle: 'circle',
      pointRadius: 6,
      pointBackgroundColor: CIRCLE_COLOR,
      pointBorderColor: CIRCLE_COLOR,
      pointBorderWidth: 0,
      showLine: false,
      clip: 0,
      order: 2,
      errorBars: true,
    });
    const diamond = (t: number[], v: Val[]) => ({
      data: series(t, v),
      pointStyle: 'rectRot',
      pointRadius: 7,
      pointBackgroundColor: 'rgba(0,0,0,0)',
      pointBorderColor: DIAMOND_COLOR,
      pointBorderWidth: 1,
      showLine: false,
      clip: 0,
      order: 1,
    });
    const datasets = [
      circle(T_A, p.cA, p.eA),
      circle(T_B, p.c1, p.e1),
      circle(T_B, p.c2, p.e2),
      circle(T_B, p.c3, p.e3),
      diamond(T_A, p.dA),
      diamond(T_B, p.d1),
      diamond(T_B, p.d2),
    ];
    const chart = new Chart(ref.current as HTMLCanvasElement, {
      type: 'scatter',
      data: { datasets } as any,
      options: {
        responsive: false,
        maintainAspectRatio: false,
        animation: false,
        devicePixelRatio: 1,
        events: [],
        layout: { padding: { left: 0, right: PAD_RIGHT, top: PAD_TOP, bottom: 0 } },
        plugins: { legend: { display: false }, tooltip: { enabled: false } },
        scales: {
          x: {
            type: 'linear',
            min: X_MIN,
            max: X_MAX,
            grid: { display: false, drawTicks: false },
            border: { display: false },
            ticks: {
              stepSize: X_MAJOR,
              autoSkip: false,
              maxRotation: 0,
              minRotation: 0,
              padding: 10,
              color: TEXT_COLOR,
              font: { family: FONT_FAMILY, size: FONT_SIZE },
              callback: (v: any) => X_TICK_LABELS[Math.round(Number(v) / X_MAJOR)] ?? '',
            },
            afterFit: (s: any) => {
              s.height = LABEL_H;
              s.paddingLeft = 0;
              s.paddingRight = 0;
            },
          },
          y: {
            type: 'linear',
            reverse: true,
            min: yMin,
            max: yMax,
            grid: { display: false, drawTicks: false },
            border: { display: false },
            ticks: { stepSize: yStep, display: false },
            afterFit: (s: any) => {
              s.width = Y_AXIS_W;
              s.paddingTop = 0;
              s.paddingBottom = 0;
            },
          },
        },
      } as any,
      plugins: [errorBarPlugin, makeFramePlugin(yMin, yMax, yStep, yMinor)] as any,
    });
    return () => chart.destroy();
  }, [index]);
  const top = Math.round(FRAME_TOP0 + index * PANEL_PITCH) - PAD_TOP;
  return (
    <canvas
      ref={ref}
      width={CANVAS_W}
      height={CANVAS_H}
      style={{ position: 'absolute', left: CANVAS_LEFT, top, width: CANVAS_W, height: CANVAS_H }}
    />
  );
}

function TitleBar() {
  return (
    <div
      style={{
        position: 'absolute',
        left: 20,
        top: 7,
        width: 1077,
        height: 28,
        boxSizing: 'border-box',
        borderRadius: '6px 6px 0 0',
        background: 'linear-gradient(#efefef, #d4d4d4)',
        borderBottom: '1px solid #9c9c9c',
      }}
    >
      {[39, 65, 91].map((cx) => (
        <div
          key={cx}
          style={{
            position: 'absolute',
            left: cx - 20 - 7,
            top: 7.5,
            width: 14,
            height: 14,
            boxSizing: 'border-box',
            borderRadius: '50%',
            background: '#dadada',
            border: '1px solid #c0c0c0',
          }}
        />
      ))}
      <div
        style={{
          position: 'absolute',
          left: 505,
          top: 5,
          width: 17,
          height: 18,
          boxSizing: 'border-box',
          background: '#d6d6d6',
          border: '1px solid #b4b4b4',
          color: '#8a8a8a',
          font: '15px "Liberation Serif", serif',
          lineHeight: '16px',
          textAlign: 'center',
        }}
      >
        X
      </div>
      <div
        style={{
          position: 'absolute',
          left: 532,
          top: 4,
          height: 20,
          lineHeight: '20px',
          color: '#4e4e4e',
          font: '14px "DejaVu Sans", sans-serif',
          whiteSpace: 'nowrap',
        }}
      >
        IDL 0
      </div>
    </div>
  );
}

function ResizeGrip() {
  return (
    <div
      style={{
        position: 'absolute',
        left: 1083,
        top: 1719,
        width: 17,
        height: 18,
        background: 'repeating-linear-gradient(135deg, #e8e8e8 0px, #e8e8e8 2px, #9a9a9a 2px, #9a9a9a 3px)',
      }}
    />
  );
}

export default function App() {
  return (
    <div
      style={{
        position: 'absolute',
        left: 0,
        top: 0,
        width: 1100,
        height: 1737,
        background: '#000',
        overflow: 'hidden',
      }}
    >
      <TitleBar />
      {PANELS.map((p, i) => (
        <Panel key={i} index={i} />
      ))}
      <ResizeGrip />
    </div>
  );
}
